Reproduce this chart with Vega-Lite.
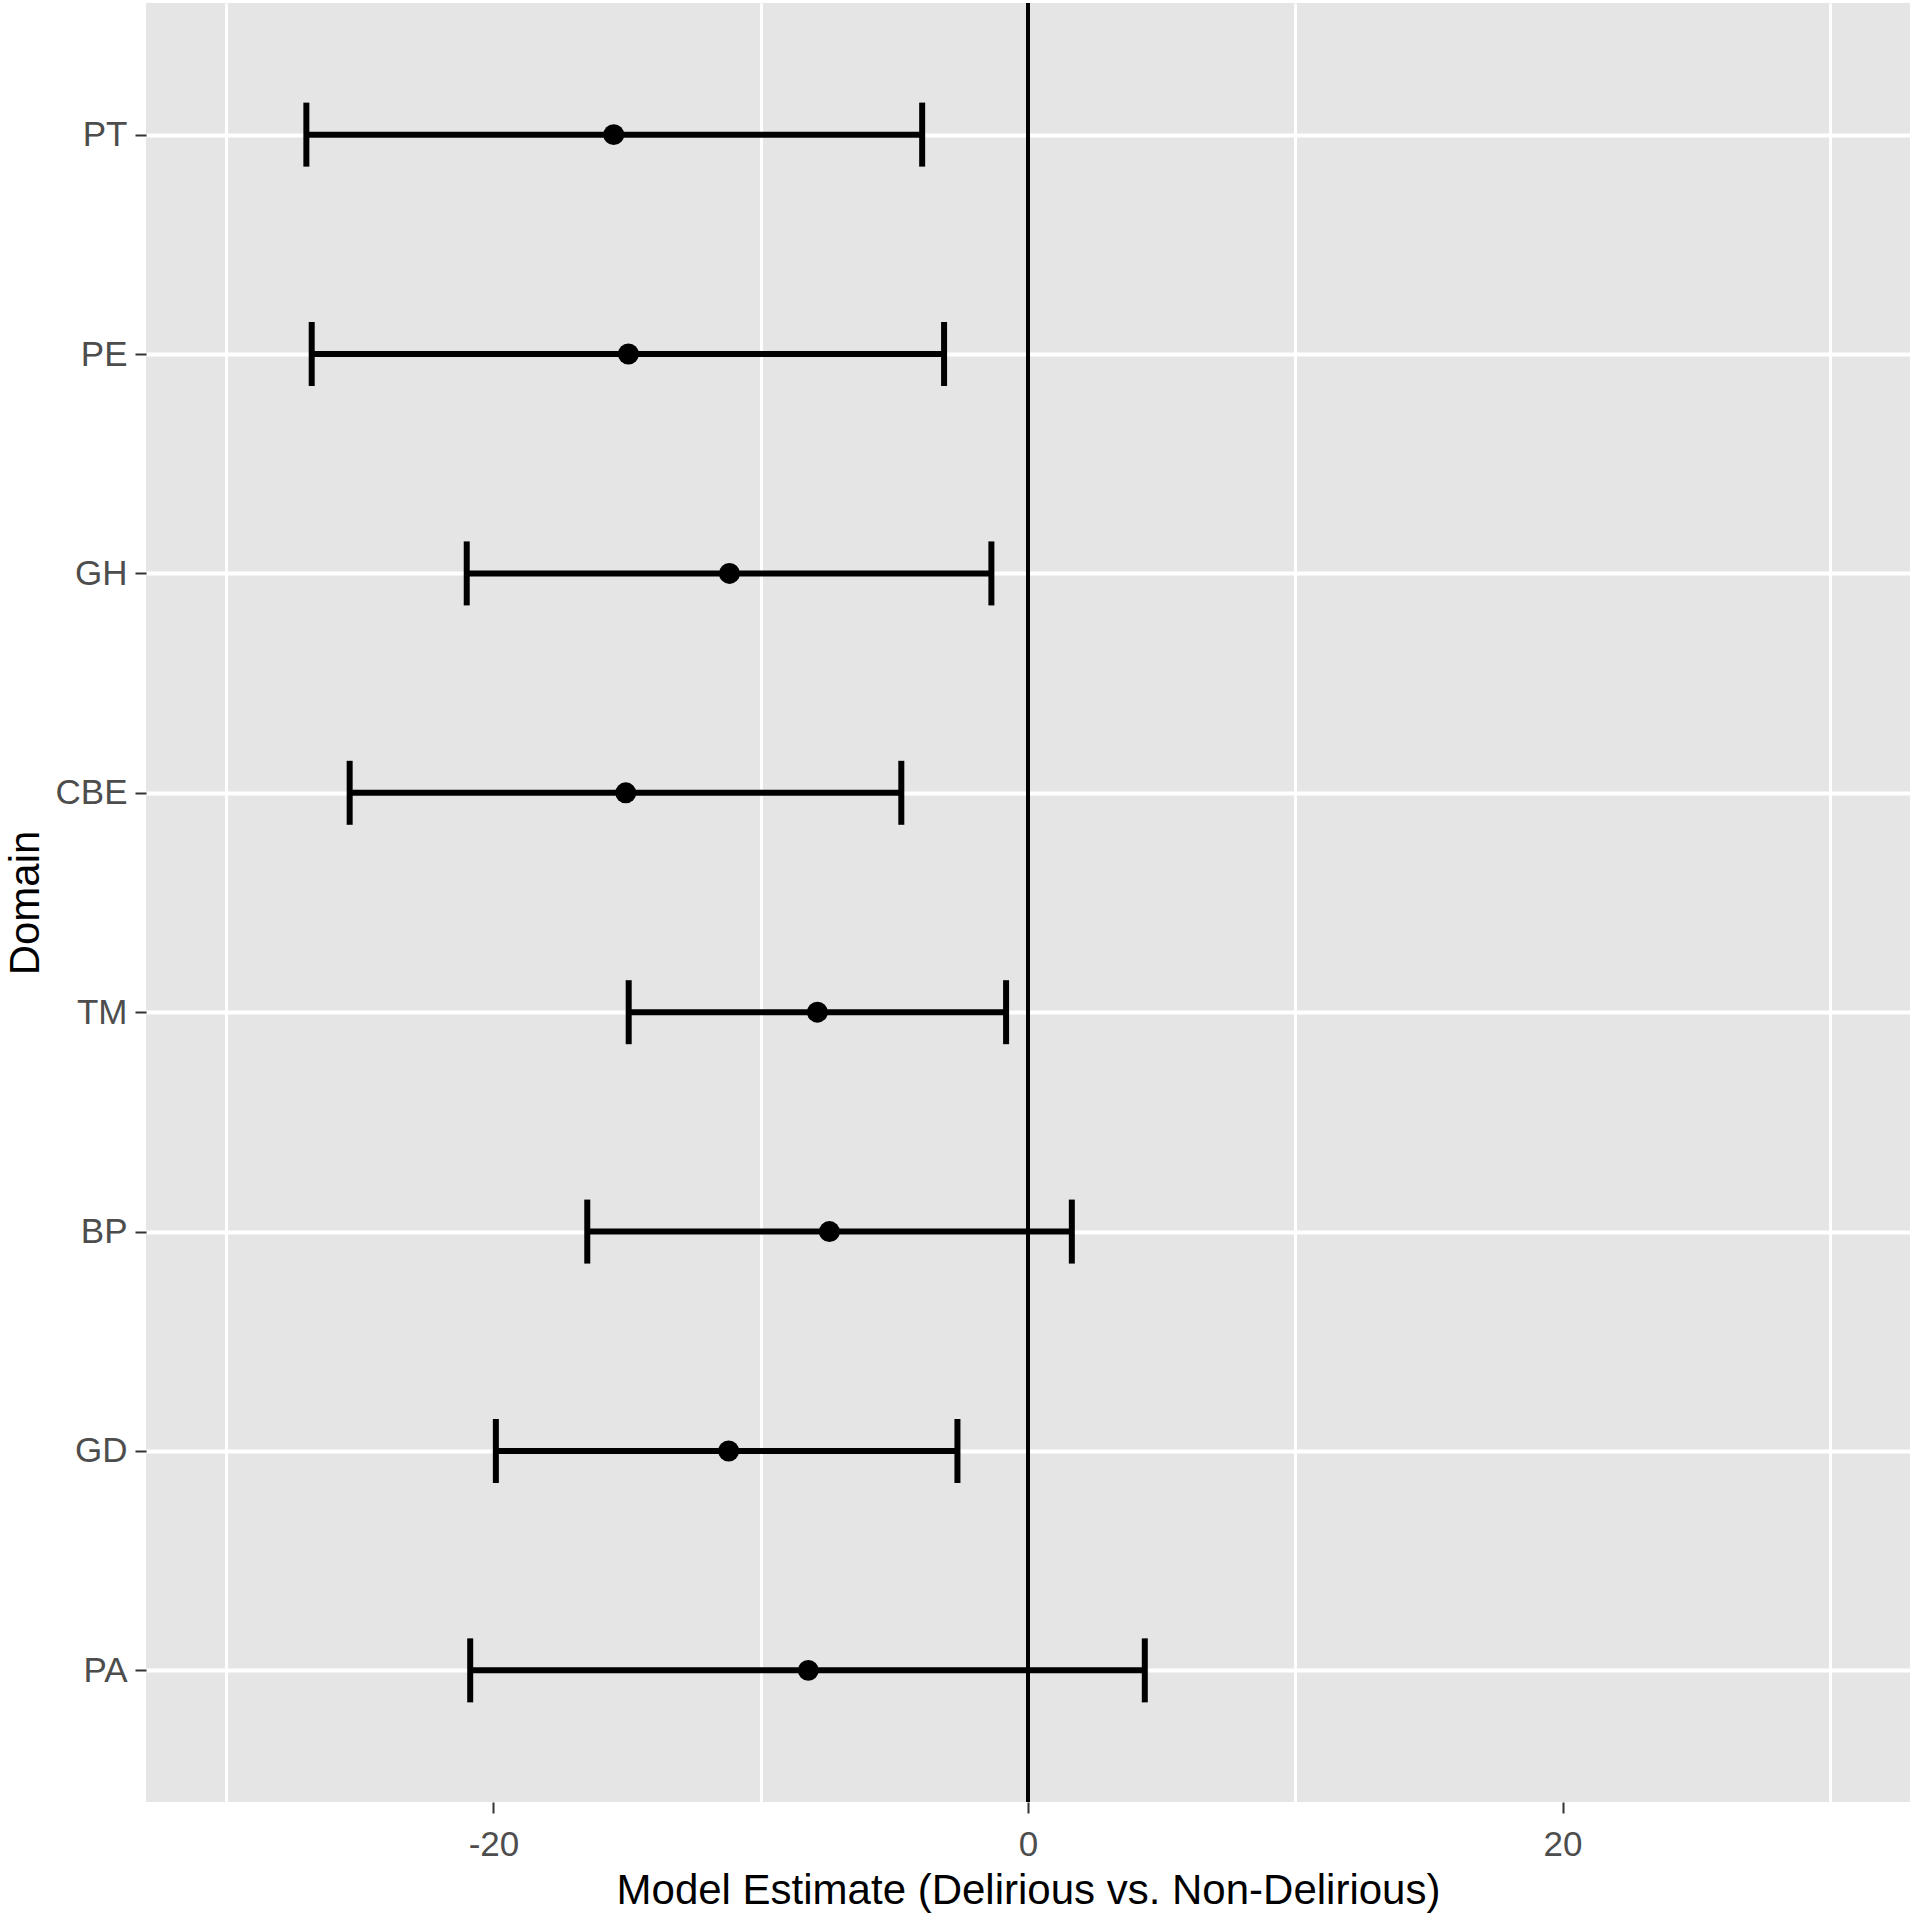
{
  "$schema": "https://vega.github.io/schema/vega-lite/v6.json",
  "autosize": {"type": "none"},
  "width": 1764,
  "height": 1799,
  "padding": {"left": 146, "top": 3, "right": 6, "bottom": 117},
  "background": "white",
  "config": {
    "view": {"fill": "#E5E5E5", "stroke": null},
    "font": "Liberation Sans",
    "axis": {
      "domain": false,
      "grid": true,
      "gridColor": "white",
      "gridWidth": 4,
      "tickColor": "#333333",
      "tickWidth": 2,
      "tickSize": 11,
      "labelFont": "Liberation Sans",
      "labelFontSize": 35,
      "labelColor": "#4D4D4D",
      "titleFont": "Liberation Sans",
      "titleFontSize": 42,
      "titleFontWeight": "normal",
      "titleColor": "black"
    }
  },
  "data": {
    "values": [
      {"domain": "PT", "lower": -27.0, "est": -15.5, "upper": -3.96},
      {"domain": "PE", "lower": -26.8, "est": -14.95, "upper": -3.14},
      {"domain": "GH", "lower": -21.0, "est": -11.17, "upper": -1.37},
      {"domain": "CBE", "lower": -25.38, "est": -15.05, "upper": -4.74},
      {"domain": "TM", "lower": -14.94, "est": -7.88, "upper": -0.82},
      {"domain": "BP", "lower": -16.49, "est": -7.43, "upper": 1.64},
      {"domain": "GD", "lower": -19.91, "est": -11.2, "upper": -2.64},
      {"domain": "PA", "lower": -20.87, "est": -8.22, "upper": 4.37}
    ]
  },
  "resolve": {"axis": {"x": "independent"}},
  "layer": [
    {
      "mark": {"type": "rule", "color": "black", "strokeWidth": 3},
      "encoding": {
        "x": {
          "datum": 0,
          "type": "quantitative",
          "scale": {"domain": [-33, 33], "nice": false, "zero": false},
          "axis": {
            "orient": "bottom",
            "values": [-30, -10, 10, 30],
            "labels": false,
            "ticks": false,
            "domain": false,
            "grid": true,
            "gridColor": "white",
            "gridWidth": 3,
            "title": null
          }
        }
      }
    },
    {
      "encoding": {
        "y": {
          "field": "domain",
          "type": "nominal",
          "sort": ["PT", "PE", "GH", "CBE", "TM", "BP", "GD", "PA"],
          "scale": {"type": "point", "padding": 0.6},
          "axis": {
            "title": "Domain",
            "labelPadding": 8,
            "titleAngle": -90,
            "titleX": -108,
            "titleY": 899.5,
            "titleAlign": "center",
            "titleBaseline": "alphabetic"
          }
        }
      },
      "layer": [
        {
          "mark": {"type": "rule", "color": "black", "strokeWidth": 6},
          "encoding": {
            "x": {
              "field": "lower",
              "type": "quantitative",
              "scale": {"domain": [-33, 33], "nice": false, "zero": false},
              "title": "Model Estimate (Delirious vs. Non-Delirious)",
              "axis": {
                "orient": "bottom",
                "values": [-20, 0, 20],
                "labelExpr": "datum.value < 0 ? '-' + abs(datum.value) : '' + datum.value",
                "labelPadding": 14,
                "titleY": 101,
                "titleBaseline": "alphabetic"
              }
            },
            "x2": {"field": "upper"}
          }
        },
        {
          "mark": {"type": "tick", "color": "black", "opacity": 1, "size": 64, "thickness": 6, "orient": "vertical"},
          "encoding": {
            "x": {
              "field": "lower",
              "type": "quantitative",
              "title": "Model Estimate (Delirious vs. Non-Delirious)",
              "axis": {
                "orient": "bottom",
                "values": [-20, 0, 20],
                "labelExpr": "datum.value < 0 ? '-' + abs(datum.value) : '' + datum.value",
                "labelPadding": 14,
                "titleY": 101,
                "titleBaseline": "alphabetic"
              }
            }
          }
        },
        {
          "mark": {"type": "tick", "color": "black", "opacity": 1, "size": 64, "thickness": 6, "orient": "vertical"},
          "encoding": {
            "x": {
              "field": "upper",
              "type": "quantitative",
              "title": "Model Estimate (Delirious vs. Non-Delirious)",
              "axis": {
                "orient": "bottom",
                "values": [-20, 0, 20],
                "labelExpr": "datum.value < 0 ? '-' + abs(datum.value) : '' + datum.value",
                "labelPadding": 14,
                "titleY": 101,
                "titleBaseline": "alphabetic"
              }
            }
          }
        },
        {
          "mark": {"type": "point", "filled": true, "shape": "circle", "color": "black", "opacity": 1, "size": 440},
          "encoding": {
            "x": {
              "field": "est",
              "type": "quantitative",
              "title": "Model Estimate (Delirious vs. Non-Delirious)",
              "axis": {
                "orient": "bottom",
                "values": [-20, 0, 20],
                "labelExpr": "datum.value < 0 ? '-' + abs(datum.value) : '' + datum.value",
                "labelPadding": 14,
                "titleY": 101,
                "titleBaseline": "alphabetic"
              }
            }
          }
        }
      ]
    }
  ]
}
